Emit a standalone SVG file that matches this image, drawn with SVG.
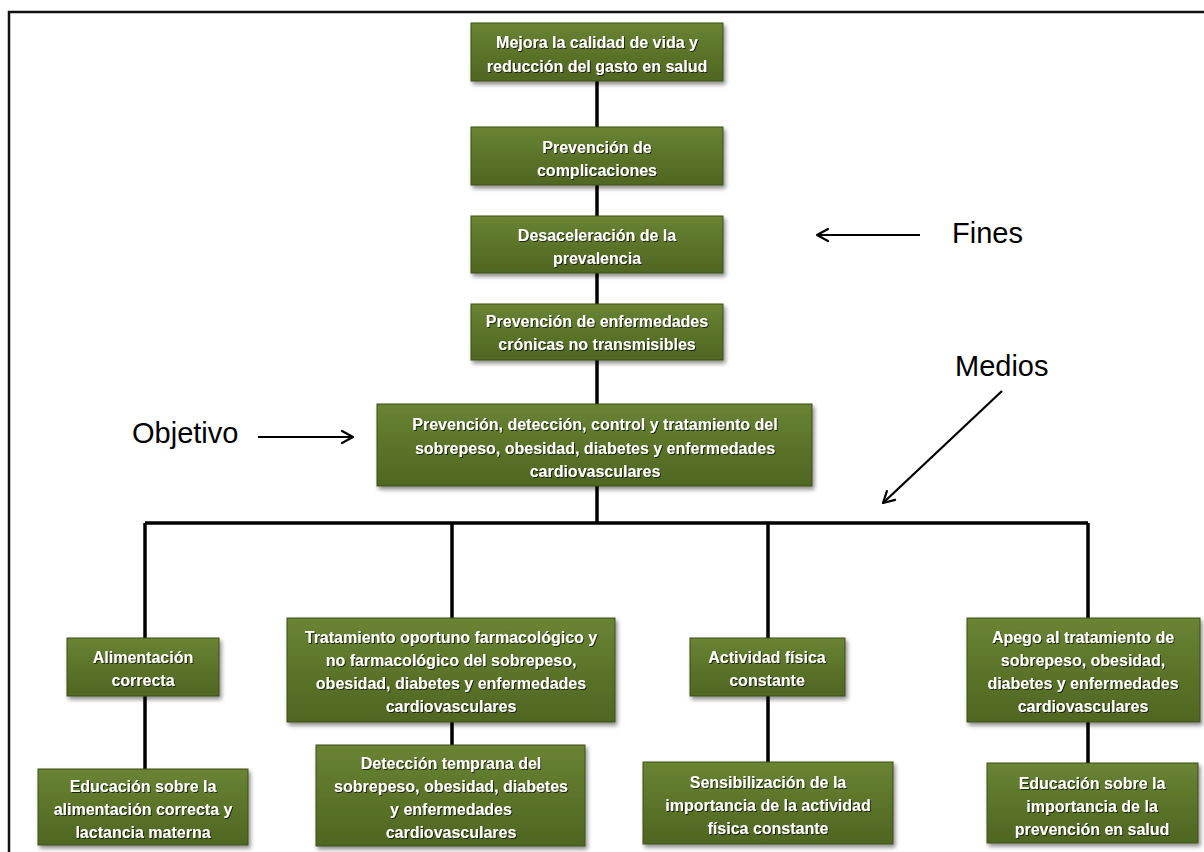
<svg xmlns="http://www.w3.org/2000/svg" width="1204" height="852" viewBox="0 0 1204 852">
<defs>
<linearGradient id="g" x1="0" y1="0" x2="0" y2="1">
<stop offset="0" stop-color="#6a8434"/>
<stop offset="0.5" stop-color="#5b7429"/>
<stop offset="1" stop-color="#4f6622"/>
</linearGradient>
<filter id="sh" x="-10%" y="-10%" width="125%" height="135%">
<feDropShadow dx="2" dy="3" stdDeviation="2" flood-color="#000" flood-opacity="0.45"/>
</filter>
<filter id="ts" x="-5%" y="-20%" width="110%" height="150%">
<feDropShadow dx="1" dy="1" stdDeviation="0.6" flood-color="#000" flood-opacity="0.7"/>
</filter>
<marker id="ah" markerUnits="userSpaceOnUse" markerWidth="16" markerHeight="16" refX="13" refY="8" orient="auto">
<path d="M2,2 L13,8 L2,14" fill="none" stroke="#000" stroke-width="2.2" stroke-linecap="round" stroke-linejoin="round"/>
</marker>
</defs>
<style>
.box{fill:url(#g);stroke:#3d4f1b;stroke-width:1;filter:url(#sh)}
.t{font-family:"Liberation Sans",Arial,sans-serif;font-weight:bold;font-size:16px;fill:#fff;text-anchor:middle;filter:url(#ts)}
.lbl{font-family:"Liberation Sans",Arial,sans-serif;font-size:29px;fill:#000}
.c{stroke:#000;stroke-width:3.5;fill:none}
.a{stroke:#000;stroke-width:2.2;fill:none;marker-end:url(#ah)}
</style>
<rect width="1204" height="852" fill="#fff"/>
<path d="M9,852 V12 H1204" fill="none" stroke="#111" stroke-width="2.5"/>

<g id="connectors">
<path class="c" d="M597,81 V523"/>
<path class="c" d="M145,523 H1088"/>
<path class="c" d="M145,523 V770"/>
<path class="c" d="M452,523 V746"/>
<path class="c" d="M768,523 V763"/>
<path class="c" d="M1088,523 V764"/>
<line class="a" x1="920" y1="235" x2="817" y2="235"/>
<line class="a" x1="258" y1="437" x2="353" y2="437"/>
<line class="a" x1="1002" y1="391" x2="883" y2="503"/>
</g>

<g id="n1"><rect class="box" x="471" y="23" width="252" height="58"/>
<text class="t" x="597" y="48">Mejora la calidad de vida y</text>
<text class="t" x="597" y="72">reducción del gasto en salud</text></g>

<g id="n2"><rect class="box" x="471" y="127" width="252" height="58"/>
<text class="t" x="597" y="153">Prevención de</text>
<text class="t" x="597" y="176">complicaciones</text></g>

<g id="n3"><rect class="box" x="471" y="216" width="252" height="57"/>
<text class="t" x="597" y="241">Desaceleración de la</text>
<text class="t" x="597" y="264">prevalencia</text></g>

<g id="n4"><rect class="box" x="471" y="304" width="252" height="56"/>
<text class="t" x="597" y="327">Prevención de enfermedades</text>
<text class="t" x="597" y="350">crónicas no transmisibles</text></g>

<g id="n5"><rect class="box" x="377" y="404" width="435" height="82"/>
<text class="t" x="595" y="430">Prevención, detección, control y tratamiento del</text>
<text class="t" x="595" y="454">sobrepeso, obesidad, diabetes y enfermedades</text>
<text class="t" x="595" y="477">cardiovasculares</text></g>

<g id="n6"><rect class="box" x="67" y="638" width="152" height="58"/>
<text class="t" x="143" y="663">Alimentación</text>
<text class="t" x="143" y="686">correcta</text></g>

<g id="n7"><rect class="box" x="38" y="769" width="210" height="76"/>
<text class="t" x="143" y="792">Educación sobre la</text>
<text class="t" x="143" y="815">alimentación correcta y</text>
<text class="t" x="143" y="838">lactancia materna</text></g>

<g id="n8"><rect class="box" x="287" y="618" width="328" height="104"/>
<text class="t" x="451" y="643">Tratamiento oportuno farmacológico y</text>
<text class="t" x="451" y="666">no farmacológico del sobrepeso,</text>
<text class="t" x="451" y="689">obesidad, diabetes y enfermedades</text>
<text class="t" x="451" y="712">cardiovasculares</text></g>

<g id="n9"><rect class="box" x="316" y="745" width="269" height="101"/>
<text class="t" x="451" y="769">Detección temprana del</text>
<text class="t" x="451" y="792">sobrepeso, obesidad, diabetes</text>
<text class="t" x="451" y="815">y enfermedades</text>
<text class="t" x="451" y="838">cardiovasculares</text></g>

<g id="n10"><rect class="box" x="690" y="638" width="155" height="58"/>
<text class="t" x="767" y="663">Actividad física</text>
<text class="t" x="767" y="686">constante</text></g>

<g id="n11"><rect class="box" x="643" y="762" width="250" height="82"/>
<text class="t" x="768" y="788">Sensibilización de la</text>
<text class="t" x="768" y="811">importancia de la actividad</text>
<text class="t" x="768" y="834">física constante</text></g>

<g id="n12"><rect class="box" x="967" y="618" width="233" height="104"/>
<text class="t" x="1083" y="643">Apego al tratamiento de</text>
<text class="t" x="1083" y="666">sobrepeso, obesidad,</text>
<text class="t" x="1083" y="689">diabetes y enfermedades</text>
<text class="t" x="1083" y="712">cardiovasculares</text></g>

<g id="n13"><rect class="box" x="987" y="763" width="211" height="80"/>
<text class="t" x="1092" y="789">Educación sobre la</text>
<text class="t" x="1092" y="812">importancia de la</text>
<text class="t" x="1092" y="835">prevención en salud</text></g>

<g id="labels">
<text class="lbl" x="952" y="243">Fines</text>
<text class="lbl" x="132" y="443">Objetivo</text>
<text class="lbl" x="955" y="376">Medios</text>
</g>
</svg>
